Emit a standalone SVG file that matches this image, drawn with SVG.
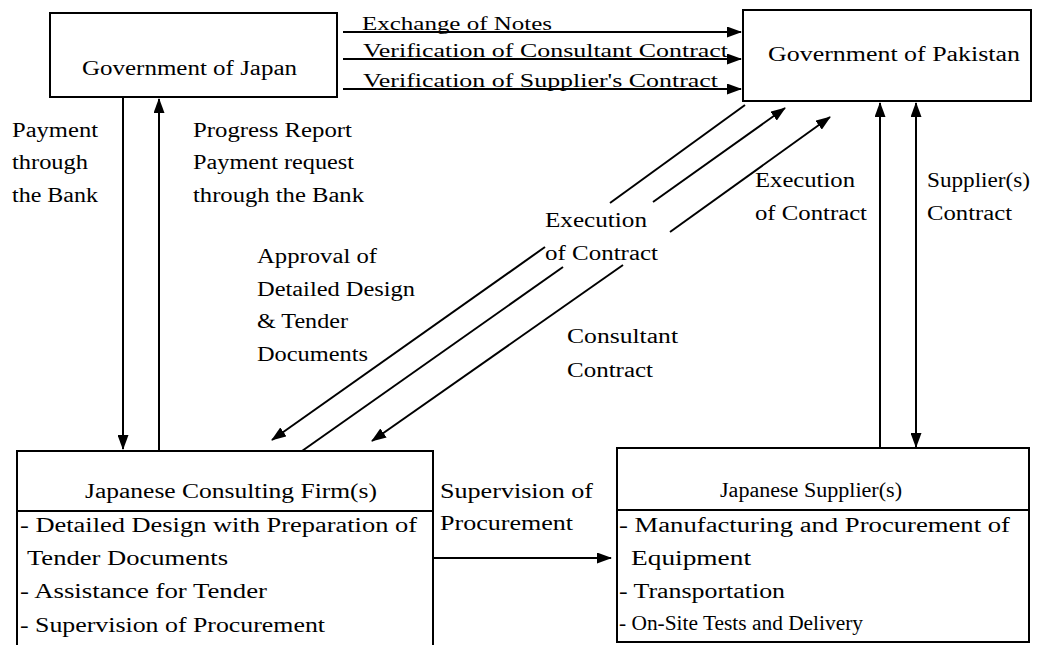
<svg xmlns="http://www.w3.org/2000/svg" width="1042" height="645" viewBox="0 0 1042 645">
<style>
text{font-family:"Liberation Serif","Times New Roman",serif;font-size:20px;fill:#000}
.sm{font-size:19px}
.box{fill:#fff;stroke:#000;stroke-width:2}
.ln{fill:none;stroke:#000;stroke-width:2}
.ar{fill:none;stroke:#000;stroke-width:2;marker-end:url(#ah)}
</style>
<defs>
<marker id="ah" markerUnits="userSpaceOnUse" markerWidth="15" markerHeight="11" refX="14" refY="5.5" orient="auto">
<path d="M0,0 L15,5.5 L0,11 z" fill="#000"/>
</marker>
</defs>
<rect width="1042" height="645" fill="#fff"/>

<g id="gov_japan">
<rect class="box" x="50" y="13" width="287" height="84"/>
<text x="82" y="75" textLength="215" lengthAdjust="spacingAndGlyphs">Government of Japan</text>
</g>

<g id="gov_pakistan">
<rect class="box" x="743" y="10" width="288" height="91"/>
<text x="768" y="61" textLength="252" lengthAdjust="spacingAndGlyphs">Government of Pakistan</text>
</g>

<g id="consulting_firm">
<path class="ln" d="M17,660 V451 H433 V660"/>
<line class="ln" x1="17" y1="511" x2="433" y2="511"/>
<text x="85" y="498" textLength="292" lengthAdjust="spacingAndGlyphs">Japanese Consulting Firm(s)</text>
<text x="20" y="532" textLength="397" lengthAdjust="spacingAndGlyphs">- Detailed Design with Preparation of</text>
<text x="27" y="565" textLength="201" lengthAdjust="spacingAndGlyphs">Tender Documents</text>
<text x="20" y="598" textLength="247" lengthAdjust="spacingAndGlyphs">- Assistance for Tender</text>
<text x="20" y="632" textLength="305" lengthAdjust="spacingAndGlyphs">- Supervision of Procurement</text>
</g>

<g id="supplier">
<rect class="box" x="617" y="448" width="412" height="194"/>
<line class="ln" x1="617" y1="510" x2="1029" y2="510"/>
<text x="720" y="497" textLength="182" lengthAdjust="spacingAndGlyphs">Japanese Supplier(s)</text>
<text x="619" y="532" textLength="391" lengthAdjust="spacingAndGlyphs">- Manufacturing and Procurement of</text>
<text x="631" y="565" textLength="120" lengthAdjust="spacingAndGlyphs">Equipment</text>
<text x="619" y="598" textLength="166" lengthAdjust="spacingAndGlyphs">- Transportation</text>
<text x="619" y="630" textLength="244" lengthAdjust="spacingAndGlyphs">- On-Site Tests and Delivery</text>
</g>

<g id="connectors">
<line class="ar" x1="343" y1="32" x2="741" y2="32"/>
<line class="ar" x1="343" y1="59" x2="741" y2="59"/>
<line class="ar" x1="343" y1="89" x2="741" y2="89"/>
<line class="ar" x1="123" y1="97" x2="123" y2="449"/>
<line class="ar" x1="159" y1="451" x2="159" y2="99"/>
<line class="ln" x1="745" y1="105" x2="610" y2="203"/>
<line class="ar" x1="545" y1="247" x2="272" y2="440"/>
<line class="ln" x1="302" y1="451" x2="563" y2="267"/>
<line class="ar" x1="653" y1="202" x2="785" y2="108"/>
<line class="ar" x1="623" y1="265" x2="372" y2="441"/>
<line class="ar" x1="670" y1="232" x2="830" y2="117"/>
<line class="ar" x1="880" y1="448" x2="880" y2="103"/>
<line class="ar" x1="916" y1="275" x2="916" y2="103"/>
<line class="ar" x1="916" y1="275" x2="916" y2="447"/>
<line class="ar" x1="433" y1="558" x2="611" y2="558"/>
</g>

<g id="labels">
<text class="sm" x="362" y="30" textLength="190" lengthAdjust="spacingAndGlyphs">Exchange of Notes</text>
<text class="sm" x="363" y="57" textLength="365" lengthAdjust="spacingAndGlyphs">Verification of Consultant Contract</text>
<text class="sm" x="363" y="87" textLength="355" lengthAdjust="spacingAndGlyphs">Verification of Supplier's Contract</text>
<text x="12" y="137" textLength="86" lengthAdjust="spacingAndGlyphs">Payment</text>
<text x="12" y="169" textLength="76" lengthAdjust="spacingAndGlyphs">through</text>
<text x="12" y="202" textLength="86" lengthAdjust="spacingAndGlyphs">the Bank</text>
<text x="193" y="137" textLength="159" lengthAdjust="spacingAndGlyphs">Progress Report</text>
<text x="193" y="169" textLength="161" lengthAdjust="spacingAndGlyphs">Payment request</text>
<text x="193" y="202" textLength="171" lengthAdjust="spacingAndGlyphs">through the Bank</text>
<text x="257" y="263" textLength="120" lengthAdjust="spacingAndGlyphs">Approval of</text>
<text x="257" y="296" textLength="158" lengthAdjust="spacingAndGlyphs">Detailed Design</text>
<text x="257" y="328" textLength="91" lengthAdjust="spacingAndGlyphs">&amp; Tender</text>
<text x="257" y="361" textLength="111" lengthAdjust="spacingAndGlyphs">Documents</text>
<text x="545" y="227" textLength="102" lengthAdjust="spacingAndGlyphs">Execution</text>
<text x="545" y="260" textLength="113" lengthAdjust="spacingAndGlyphs">of Contract</text>
<text x="567" y="343" textLength="111" lengthAdjust="spacingAndGlyphs">Consultant</text>
<text x="567" y="377" textLength="86" lengthAdjust="spacingAndGlyphs">Contract</text>
<text x="755" y="187" textLength="100" lengthAdjust="spacingAndGlyphs">Execution</text>
<text x="755" y="220" textLength="112" lengthAdjust="spacingAndGlyphs">of Contract</text>
<text x="927" y="187" textLength="103" lengthAdjust="spacingAndGlyphs">Supplier(s)</text>
<text x="927" y="220" textLength="85" lengthAdjust="spacingAndGlyphs">Contract</text>
<text x="440" y="498" textLength="153" lengthAdjust="spacingAndGlyphs">Supervision of</text>
<text x="440" y="530" textLength="133" lengthAdjust="spacingAndGlyphs">Procurement</text>
</g>
</svg>
